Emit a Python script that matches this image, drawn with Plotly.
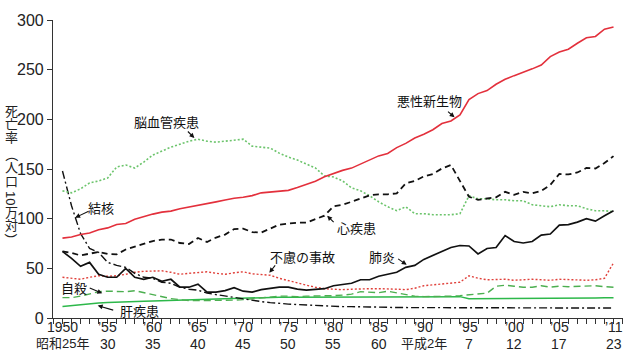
import plotly.graph_objects as go

years = list(range(1950, 2012))

cancer = [80.4, 81.6, 84.0, 85.6, 88.8, 90.7, 94.2, 95.1, 99.4, 102.3,
          104.6, 106.6, 107.6, 110.0, 111.9, 113.2, 115.7, 116.9, 118.7, 120.6,
          121.6, 123.2, 126.0, 126.9, 128.0, 128.5, 131.3, 134.6, 137.6, 142.1,
          145.6, 148.6, 150.9, 155.2, 159.5, 163.2, 165.7, 171.5, 175.8, 181.2,
          184.9, 189.5, 195.7, 198.4, 204.5, 219.9, 225.9, 228.9, 235.3, 240.3,
          244.0, 247.8, 250.8, 254.6, 263.2, 267.7, 270.6, 276.6, 282.1, 283.4,
          290.7, 293.0]

cerebro = [128, 126, 130, 136, 138, 141, 152, 154, 151, 157,
           164, 168, 172, 175, 178, 180, 178, 177, 178, 179,
           180, 173, 172, 171, 166, 162, 159, 155, 151, 143,
           142, 138, 131, 128, 123, 117, 112, 108, 112, 105,
           105, 104, 104, 104, 105, 123, 120, 120, 119, 119,
           118, 118, 114, 113, 112, 114, 113, 113, 110, 108,
           108, 107]

heart = [67, 65.5, 63, 65, 66.5, 64.5, 64, 69, 72, 75,
         77.5, 79, 79, 75.5, 74.5, 80.5, 76.5, 81, 84, 89.5,
         90, 86.5, 86, 90, 94, 95, 96, 96, 99.5, 103,
         112.5, 114, 117, 120.5, 123.5, 124.5, 124.5, 125.5, 135.5, 138,
         142.5, 145, 150.5, 154, 137.5, 122, 119, 120, 121.5, 127,
         124, 127, 125.5, 128, 134, 145, 144.5, 146.5, 151, 150.5,
         156, 163]

pneumonia = [67, 60, 52, 56, 44, 41, 41, 50, 41, 39,
             41, 37, 39, 31, 31, 34, 26, 26, 27.5, 30.5,
             27, 26, 28.5, 30, 31, 31, 29, 28, 29, 29.5,
             32.5, 33.5, 35, 38.5, 38.5, 42, 44, 46, 51, 53,
             59, 63, 67, 71, 73, 72.5, 64.5, 70, 71, 83,
             77, 75.5, 77, 83.5, 84.5, 93.5, 94, 96.5, 100, 97.5,
             103, 108]

tb = [148, 113, 85, 70, 66, 56, 53, 51, 45, 41,
      40, 36, 35, 31, 29, 28, 25, 23.5, 22, 20.5,
      19, 17.5, 16.5, 15.5, 14.5, 14, 13.5, 13, 12.5, 12,
      12, 11.5, 11.5, 11, 11, 11, 10.5, 10.5, 10.5, 10.5,
      10.5, 10.5, 10.5, 10.5, 10.5, 10.5, 10, 10, 10, 10,
      10, 10, 10, 10, 10, 10, 10, 10, 10, 10,
      10, 10]

accident = [41, 40, 39, 41, 42.5, 42, 42.5, 44, 46, 47,
            47, 47.5, 46, 44, 45, 46, 46.5, 45, 44, 45.5,
            46.5, 44.5, 44, 43, 40, 37.5, 35, 33, 31, 29.5,
            29, 28.5, 29, 29.5, 29.5, 29.5, 29.5, 29, 28.5, 30,
            32.5, 33.5, 34.5, 35, 36, 42.5, 40, 38.5, 38.5, 39,
            38, 38.5, 39, 38.5, 38, 39, 38.5, 38.5, 38, 38.5,
            40, 55.5]

suicide = [20.5, 20.5, 22, 24.5, 26.5, 27, 26.5, 26.5, 27.5, 25.5,
           23.5, 21, 19.5, 18.5, 17.5, 17.5, 17.5, 17.5, 17.5, 18,
           18.5, 19.5, 20.5, 21.5, 22, 22, 21.5, 22, 22, 22.5,
           22.5, 23, 24, 26.5, 26, 25.5, 27, 25.5, 24, 22,
           21.5, 21.5, 22, 22, 22.5, 23.5, 24, 25, 32, 33,
           32, 31, 31, 32.5, 31, 32, 31.5, 32, 32, 32.5,
           31.5, 31]

liver = [11.5, 12.5, 13.5, 14.5, 15, 15.5, 16, 16.3, 16.5, 16.8,
         17, 17.3, 17.6, 18, 18.3, 18.7, 19, 19.3, 19.7, 20,
         20.3, 20.5, 20.7, 20.8, 21, 21, 21, 21, 21, 21,
         21, 21, 21, 21, 21, 21, 21, 21, 21, 21,
         21, 21, 21, 21, 21.5, 19.5, 19.5, 19.5, 19.5, 19.5,
         19.5, 19.5, 19.5, 19.5, 19.5, 19.5, 19.8, 20, 20, 20.2,
         20.3, 20.5]

tick_years = [1950, 1955, 1960, 1965, 1970, 1975, 1980, 1985, 1990, 1995, 2000, 2005, 2011]
tick_row1 = ["1950", "\u201955", "\u201960", "\u201965", "\u201970", "\u201975", "\u201980",
             "\u201985", "\u201990", "\u201995", "\u201900", "\u201905", "\u201911"]
tick_row2 = ["昭和25年", "30", "35", "40", "45", "50", "55", "60", "平成2年", "7", "12", "17", "23"]
y_ticks = [0, 50, 100, 150, 200, 250, 300]

# (name, values, color, dash, width)
series = [
    ("肝疾患", liver, "#2db84a", "solid", 1.5),
    ("自殺", suicide, "#4caf50", "7px,4px", 1.4),
    ("不慮の事故", accident, "#e0403a", "2px,2px", 1.4),
    ("結核", tb, "#111111", "8px,3px,2px,3px", 1.4),
    ("脳血管疾患", cerebro, "#6cc46c", "2px,2px", 1.6),
    ("肺炎", pneumonia, "#111111", "solid", 1.7),
    ("心疾患", heart, "#111111", "6px,4px", 1.8),
    ("悪性新生物", cancer, "#e3303c", "solid", 1.6),
]

fig = go.Figure()
for name, vals, color, dash, w in series:
    fig.add_trace(go.Scatter(x=years, y=vals, mode="lines", name=name,
                             line=dict(color=color, dash=dash, width=w),
                             showlegend=False, hoverinfo="skip"))

CJK = "Noto Sans CJK JP"
NUM = "Liberation Sans, Noto Sans CJK JP"

ann = []
# series labels: (text, year, value)
labels = [
    ("悪性新生物", 1990.65, 218.8),
    ("脳血管疾患", 1961.5, 198.0),
    ("結核", 1954.25, 110.9),
    ("心疾患", 1982.6, 91.1),
    ("不慮の事故", 1976.6, 62.4),
    ("肺炎", 1985.35, 62.4),
    ("自殺", 1951.3, 30.7),
    ("肝疾患", 1958.55, 7.8),
]
for t, x, y in labels:
    ann.append(dict(text=t, x=x, y=y, xref="x", yref="y", showarrow=False,
                    xanchor="center", yanchor="middle", borderpad=0,
                    font=dict(family=CJK, size=13, color="#111")))

# pointer arrows: (head year, head value, ax, ay)
arrows = [
    (1993.4, 202.0, -8, -7),
    (1964.6, 181.2, -8, -8),
    (1951.4, 101.0, 15, -7),
    (1979.3, 103.0, 8, 8),
    (1972.9, 45.5, 7, -9),
    (1988.1, 53.5, -10, -7),
    (1954.4, 24.8, -14, -6),
    (1953.9, 12.5, 17, 5),
]
for x, y, ax, ay in arrows:
    ann.append(dict(text="", x=x, y=y, xref="x", yref="y", showarrow=True,
                    ax=ax, ay=ay, arrowhead=2, arrowsize=0.9, arrowwidth=1.1,
                    arrowcolor="#111", standoff=0, startstandoff=0))

# two-row x tick labels
for yr, r1, r2 in zip(tick_years, tick_row1, tick_row2):
    ann.append(dict(text=r1, x=yr, y=0, xref="x", yref="paper", xanchor="center",
                    yanchor="middle", yshift=-9, showarrow=False, borderpad=0,
                    font=dict(family=NUM, size=14, color="#222")))
    cjk = any(ord(c) > 255 for c in r2)
    ann.append(dict(text=r2, x=yr, y=0, xref="x", yref="paper", xanchor="center",
                    yanchor="middle", yshift=-25.5, showarrow=False, borderpad=0,
                    font=dict(family=NUM, size=13 if cjk else 14, color="#222")))

# vertical y-axis title, character by character
title_chars = [("死", 108, 0), ("亡", 121, 0), ("率", 134, 0), ("（", 152, 90),
               ("人", 165, 0), ("口", 179, 0), ("10", 196, 90), ("万", 211, 0),
               ("対", 224, 0), ("）", 238, 90)]
for ch, py, ang in title_chars:
    ann.append(dict(text=ch, x=-42 / 570, y=(318 - py) / 303, xref="paper", yref="paper",
                    xanchor="center", yanchor="middle", borderpad=0,
                    showarrow=False, textangle=ang,
                    font=dict(family=NUM, size=13, color="#222")))

fig.update_layout(
    width=640, height=351,
    margin=dict(l=53, r=17, t=15, b=33),
    paper_bgcolor="white", plot_bgcolor="white",
    annotations=ann,
    xaxis=dict(range=[1948.95, 2012.05], showgrid=False, zeroline=False,
               showline=True, linecolor="#333", linewidth=1.2,
               tickmode="linear", tick0=1949, dtick=1,
               ticks="outside", ticklen=5, tickwidth=1, tickcolor="#333",
               showticklabels=False),
    yaxis=dict(range=[0, 300], showgrid=False, zeroline=False,
               showline=True, linecolor="#333", linewidth=1.2,
               tickmode="array", tickvals=y_ticks,
               ticks="outside", ticklen=5, tickwidth=1, tickcolor="#333",
               tickfont=dict(family=NUM, size=16, color="#222")),
)

fig.write_html("out.html")
